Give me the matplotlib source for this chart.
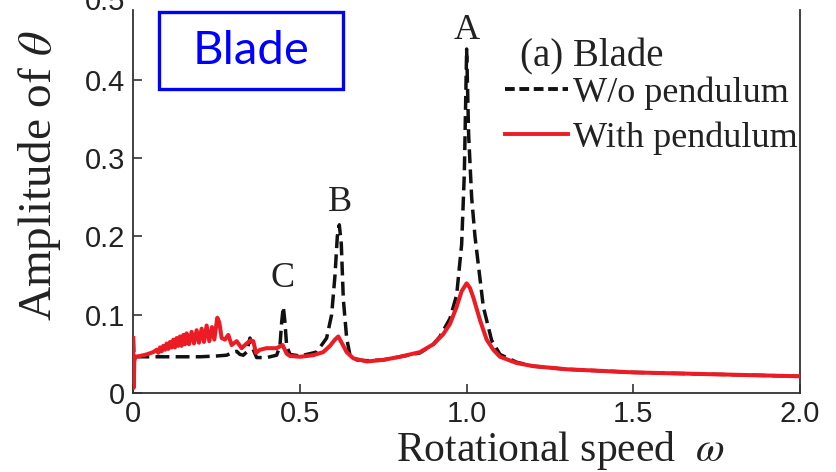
import matplotlib
matplotlib.use("Agg")
import matplotlib.pyplot as plt
from matplotlib.lines import Line2D
from matplotlib.patches import Rectangle

# ---------------- data ----------------
wo_x = [0.000, 0.002, 0.05, 0.10, 0.15, 0.20, 0.25, 0.28, 0.30, 0.31, 0.32, 0.33,
        0.34, 0.35, 0.36, 0.37, 0.40, 0.43, 0.44, 0.445, 0.45, 0.455, 0.46, 0.47,
        0.50, 0.55, 0.58, 0.595, 0.605, 0.612, 0.618, 0.624, 0.63, 0.64, 0.65,
        0.67, 0.70, 0.75, 0.80, 0.86, 0.90, 0.92, 0.95, 0.97, 0.985, 0.993, 1.0,
        1.006, 1.015, 1.025, 1.05, 1.075, 1.10, 1.15, 1.2, 1.3, 1.4, 1.5, 1.6,
        1.7, 1.8, 1.9, 2.0]
wo_y = [0.070, 0.046, 0.046, 0.046, 0.046, 0.046, 0.047, 0.048, 0.052, 0.053, 0.049, 0.048,
        0.052, 0.070, 0.055, 0.045, 0.045, 0.048, 0.060, 0.090, 0.110, 0.090, 0.060, 0.049,
        0.047, 0.052, 0.070, 0.100, 0.150, 0.200, 0.215, 0.190, 0.120, 0.070, 0.048,
        0.042, 0.041, 0.042, 0.046, 0.051, 0.062, 0.072, 0.095, 0.125, 0.190, 0.280, 0.440,
        0.330, 0.250, 0.200, 0.110, 0.067, 0.049, 0.039, 0.034, 0.030, 0.028, 0.026, 0.025,
        0.024, 0.023, 0.022, 0.021]

with_x = [0.000, 0.001, 0.003, 0.006, 0.02, 0.04, 0.06, 0.07, 0.075, 0.08, 0.085, 0.09,
          0.095, 0.10, 0.105, 0.11, 0.115, 0.12, 0.125, 0.13, 0.135, 0.14, 0.145, 0.15,
          0.155, 0.16, 0.167, 0.175, 0.182, 0.19, 0.197, 0.205, 0.212, 0.22, 0.228,
          0.236, 0.243, 0.252, 0.258, 0.265, 0.275, 0.285, 0.295, 0.31, 0.325, 0.34,
          0.352, 0.36, 0.368, 0.38, 0.40, 0.43, 0.448, 0.46, 0.47, 0.50, 0.54, 0.57,
          0.59, 0.605, 0.615, 0.625, 0.64, 0.66, 0.70, 0.75, 0.80, 0.86, 0.90, 0.93,
          0.95, 0.97, 0.985, 1.0, 1.01, 1.02, 1.04, 1.06, 1.08, 1.10, 1.15, 1.2, 1.3,
          1.4, 1.5, 1.6, 1.7, 1.8, 1.9, 2.0]
with_y = [0.070, 0.006, 0.040, 0.046, 0.047, 0.049, 0.052, 0.055, 0.051, 0.058, 0.053, 0.060,
          0.055, 0.063, 0.056, 0.065, 0.058, 0.068, 0.058, 0.070, 0.060, 0.072, 0.060, 0.074,
          0.062, 0.076, 0.062, 0.078, 0.063, 0.080, 0.064, 0.082, 0.065, 0.086, 0.066,
          0.084, 0.068, 0.096, 0.090, 0.070, 0.068, 0.074, 0.061, 0.066, 0.057, 0.063,
          0.067, 0.066, 0.051, 0.055, 0.057, 0.057, 0.061, 0.050, 0.047, 0.046, 0.048, 0.052,
          0.060, 0.068, 0.072, 0.064, 0.052, 0.044, 0.040, 0.042, 0.046, 0.052, 0.062, 0.075,
          0.088, 0.110, 0.130, 0.140, 0.134, 0.122, 0.093, 0.068, 0.055, 0.046, 0.038, 0.034, 0.030,
          0.028, 0.026, 0.025, 0.024, 0.023, 0.022, 0.021]

x_ticks = [0, 0.5, 1.0, 1.5, 2.0]
x_tick_labels = ["0", "0.5", "1.0", "1.5", "2.0"]
y_ticks = [0, 0.1, 0.2, 0.3, 0.4]
y_tick_labels = ["0", "0.1", "0.2", "0.3", "0.4"]

peak_labels = ["A", "B", "C"]
peak_x = [1.0, 0.62, 0.448]
peak_y = [0.442, 0.222, 0.125]

series_labels = ["W/o pendulum", "With pendulum"]

# ---------------- figure ----------------
plt.rcParams["mathtext.fontset"] = "stix"
W, H = 837, 472
fig = plt.figure(figsize=(W / 100, H / 100), dpi=100)
ax = fig.add_axes([133.3 / W, 1 - 392.7 / H, (800 - 133.3) / W, (392.7 - 10) / H])

red = "#ED1C24"
ax.plot(wo_x, wo_y, color="#111111", lw=2.5, ls=(0, (4.0, 1.8)), zorder=2)
ax.plot(with_x, with_y, color=red, lw=2.9, zorder=3, solid_joinstyle="round")

ax.set_xlim(0, 2.0)
ax.set_ylim(0, 0.49)
ax.set_xticks(x_ticks)
ax.set_xticklabels(x_tick_labels)
ax.set_yticks(y_ticks)
ax.set_yticklabels(y_tick_labels)
ax.tick_params(direction="in", length=6.5, width=1.2, color="#333333",
               labelsize=21, labelcolor="#222222")
ax.tick_params(axis="x", pad=5)
ax.tick_params(axis="y", pad=6)
for lab in ax.get_xticklabels() + ax.get_yticklabels():
    lab.set_fontfamily("Liberation Sans")
ax.spines["top"].set_visible(False)
for s in ["left", "bottom", "right"]:
    ax.spines[s].set_linewidth(1.3)
    ax.spines[s].set_color("#333333")

# partial "0.5" tick label at the top edge
ax.text(-0.0125, 0.5, "0.5", transform=ax.get_yaxis_transform(), ha="right", va="center",
        fontsize=21, family="Liberation Sans", color="#222222", clip_on=False)

# axis labels
fig.text(40 / W, 1 - 176 / H, r"Amplitude of $\theta$", rotation=90, ha="center", va="center",
         fontsize=34, family="Liberation Serif", color="#222222")
fig.text(560 / W, 1 - 450 / H, r"Rotational speed  $\omega$", ha="center", va="center",
         fontsize=30, family="Liberation Serif", color="#222222")

# peak labels
for lab, px, py in zip(peak_labels, peak_x, peak_y):
    ax.text(px, py, lab, ha="center", va="bottom", fontsize=26, family="Liberation Serif",
            color="#222222")

# legend
ax.text(520 / W, 1 - 66 / H, "(a) Blade", transform=fig.transFigure, ha="left", va="baseline",
        fontsize=28, family="Liberation Serif", color="#222222")
handles = [Line2D([], [], color="#111111", lw=2.8, ls=(0, (2.5, 1.2))),
           Line2D([], [], color=red, lw=2.8)]
leg = ax.legend(handles, series_labels, loc="upper left", bbox_to_anchor=(505 / W, 1 - 76 / H),
                bbox_transform=fig.transFigure, frameon=False, handlelength=1.75,
                handletextpad=0.14, labelspacing=0.33, borderaxespad=0, borderpad=0,
                prop={"family": "Liberation Serif", "size": 26})
for t in leg.get_texts():
    t.set_color("#222222")

# "Blade" box
fig.patches.append(Rectangle((159 / W, 1 - 89 / H), (343 - 159) / W, (89 - 12) / H,
                             transform=fig.transFigure, fill=False, edgecolor="#0000FF",
                             lw=2.4, zorder=5))
fig.text(251 / W, 1 - 51 / H, "Blade", ha="center", va="center", fontsize=34,
         family="Lato", color="#0000FF")

fig.savefig("out.png", dpi=100)
